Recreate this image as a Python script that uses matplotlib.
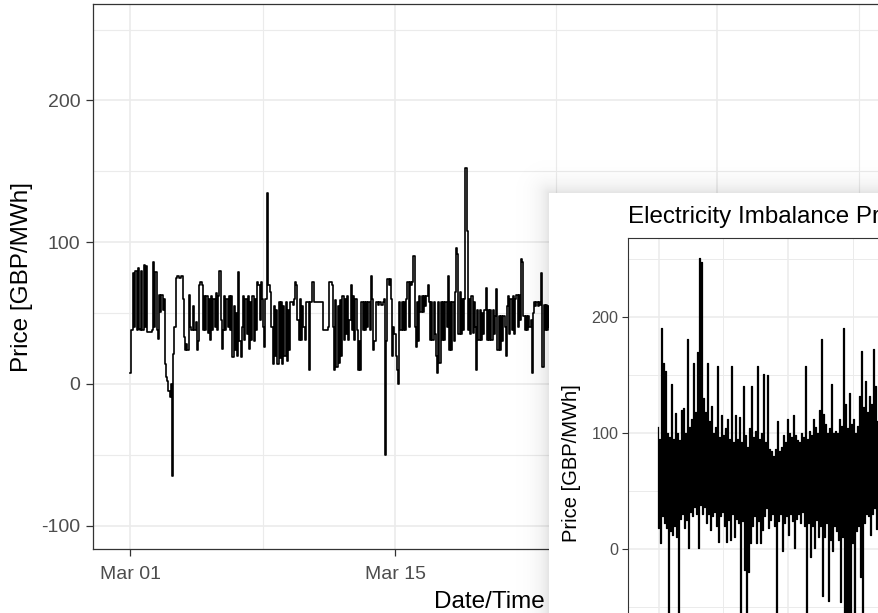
import numpy as np
import pandas as pd
import matplotlib
matplotlib.use('Agg')
import matplotlib.pyplot as plt
import matplotlib.dates as mdates
from matplotlib.patches import Rectangle

plt.rcParams['font.family'] = ['Liberation Sans', 'DejaVu Sans']
plt.rcParams['axes.unicode_minus'] = False

# March prices, 90-minute readings (GBP/MWh), one row per day
price_march = [
    8, 38, 38, 78, 40, 80, 38, 82, 39, 38, 80, 38, 84, 40, 83, 37,
    37, 37, 37, 38, 86, 40, 79, 38, 32, 63, 51, 63, 52, 60, 14, 5,
    2, -5, -9, 0, -65, 21, 40, 75, 76, 76, 75, 75, 76, 60, 33, 24,
    28, 24, 63, 40, 38, 38, 55, 38, 44, 24, 30, 70, 72, 70, 38, 62,
    38, 62, 36, 60, 31, 62, 38, 60, 40, 64, 38, 62, 80, 45, 25, 38,
    62, 38, 60, 40, 62, 38, 62, 19, 55, 24, 50, 20, 79, 30, 19, 40,
    62, 31, 60, 35, 62, 25, 58, 31, 62, 30, 60, 38, 72, 70, 45, 72,
    60, 40, 26, 60, 135, 70, 70, 65, 40, 14, 55, 20, 52, 14, 58, 18,
    58, 14, 55, 20, 58, 16, 52, 24, 58, 58, 56, 60, 72, 70, 45, 31,
    60, 31, 55, 40, 31, 58, 58, 58, 10, 58, 72, 72, 58, 58, 58, 58,
    58, 58, 58, 58, 38, 38, 38, 38, 40, 72, 72, 70, 40, 10, 59, 12,
    55, 15, 59, 20, 62, 31, 60, 35, 62, 31, 45, 70, 38, 62, 31, 60,
    38, 10, 30, 10, 58, 38, 58, 38, 58, 40, 58, 38, 76, 60, 24, 30,
    58, 58, 56, 58, 58, 56, 58, 60, -50, 30, 74, 70, 74, 60, 20, 40,
    35, 20, 10, 0, 58, 38, 58, 38, 58, 38, 60, 72, 40, 72, 70, 72,
    90, 40, 26, 58, 30, 62, 51, 62, 51, 62, 55, 62, 70, 58, 31, 58,
    31, 58, 35, 20, 8, 58, 15, 58, 31, 58, 31, 58, 40, 76, 24, 58,
    24, 58, 30, 65, 96, 92, 35, 65, 35, 60, 38, 60, 152, 108, 38, 60,
    35, 62, 36, 58, 40, 10, 52, 31, 52, 31, 50, 35, 52, 68, 31, 52,
    31, 52, 31, 52, 35, 48, 67, 24, 48, 24, 48, 30, 48, 40, 20, 55,
    62, 35, 60, 38, 62, 35, 60, 63, 40, 63, 45, 88, 86, 48, 38, 48,
    38, 48, 40, 45, 8, 50, 58, 55, 58, 55, 58, 56, 78, 12, 56, 38,
    56, 38, 55, 40, 58, 45, 60, 40, 58, 50, 56, 38, 55, 45, 60, 50,
]

# Inset series: alternating high / low readings of the dense imbalance price
imb_high = [
    105, 95, 190, 160, 153, 100, 96, 142, 95, 117,
    100, 94, 120, 121, 100, 181, 105, 112, 160, 118,
    170, 251, 247, 130, 118, 160, 110, 123, 100, 105,
    158, 96, 115, 98, 104, 112, 95, 158, 92, 115,
    95, 114, 92, 140, 98, 88, 104, 140, 96, 102,
    158, 95, 100, 151, 92, 150, 86, 84, 80, 86,
    110, 84, 88, 98, 92, 112, 100, 96, 115, 98,
    94, 92, 100, 96, 158, 95, 102, 98, 112, 105,
    100, 120, 181, 116, 108, 100, 104, 142, 100, 102,
    100, 112, 106, 190, 125, 104, 134, 108, 112, 100,
    106, 132, 171, 122, 145, 118, 132, 125, 172, 140,
    110,
]
imb_low = [
    18, 5, 28, 22, 18, -80, 15, 12, 20, 10,
    -80, 26, 30, 18, 25, 1, 32, 28, 36, 30,
    1, 38, 30, 36, 22, 30, 16, 28, 32, 20,
    6, 28, 32, 20, 6, 25, 8, 30, 10, 26,
    22, -80, 24, -18, -80, -20, 5, 20, 28, 5,
    24, 5, 16, 28, 35, 18, 25, 30, 20, -80,
    24, 30, -2, 22, 28, 12, 30, 24, 1, 26,
    30, 22, 32, 20, -80, 22, -7, 20, 1, 25,
    10, 20, -41, 10, 22, -45, 8, -2, 20, 15,
    8, -46, 10, -80, -70, -80, -75, 5, -80, 15,
    20, -24, -80, 22, 30, 28, 12, 30, 35, 17,
    30,
]

W, H = 879, 613
fig = plt.figure(figsize=(W / 100, H / 100), dpi=100)


def px_box(x0, y0, x1, y1):
    return [x0 / W, 1 - y1 / H, (x1 - x0) / W, (y1 - y0) / H]


grid_c = '#EBEBEB'
dark = '#333333'
tick_c = '#4D4D4D'

# main chart
ax = fig.add_axes(px_box(93, 4, 885, 549))
start = pd.Timestamp('2017-03-01')
times = pd.date_range(start, periods=len(price_march), freq='90min')
ax.plot(times, price_march, color='black', lw=1.2, drawstyle='steps-mid')
day = pd.Timedelta(days=1)
ax.set_xlim(start - 1.955 * day, start + 39.88 * day)
ax.set_ylim(-116.4, 268)
ax.set_xticks([start, start + 14 * day, start + 31 * day])
ax.set_xticks([start + 7 * day, start + 22.5 * day, start + 38.5 * day], minor=True)
ax.xaxis.set_major_formatter(mdates.DateFormatter('%b %d'))
ax.set_yticks([-100, 0, 100, 200])
ax.set_yticks([-50, 50, 150, 250], minor=True)
ax.grid(which='major', color=grid_c, lw=1.2)
ax.grid(which='minor', color=grid_c, lw=0.8)
ax.set_axisbelow(True)
ax.tick_params(which='major', length=5, width=0.9, color=dark, labelsize=14,
               labelcolor=tick_c, pad=4)
ax.tick_params(axis='x', which='major', pad=7.5)
ax.tick_params(which='minor', length=0)
for s in ax.spines.values():
    s.set_color(dark)
    s.set_linewidth(0.9)
ax.set_xlabel('Date/Time', fontsize=17.5, va='baseline')
ax.xaxis.set_label_coords(0.5, (549 - 608) / 545)
ax.set_ylabel('Price [GBP/MWh]', fontsize=17.5, va='center')
ax.yaxis.set_label_coords((22 - 93) / 792, 0.5)

# overlapping window with soft shadow
ov = fig.add_axes([0, 0, 1, 1])
ov.set_xlim(0, W)
ov.set_ylim(H, 0)
ov.axis('off')
yy, xx = np.mgrid[0:H, 0:W] + 0.5
d = np.hypot(np.clip(549 - xx, 0, None), np.clip(193 - yy, 0, None))
shade = np.zeros((H, W, 4))
shade[..., 3] = 0.11 * np.exp(-d / 10)
ov.imshow(shade, extent=(0, W, H, 0), aspect='auto', interpolation='bilinear')
ov.add_patch(Rectangle((549, 193), W, H, facecolor='white', edgecolor='none'))

# inset chart
ax_in = fig.add_axes(px_box(628, 238, 1230, 688))
vals = np.empty(2 * len(imb_high))
vals[0::2] = imb_high
vals[1::2] = imb_low
ax_in.plot(np.arange(len(vals)), vals, color='black', lw=0.9, drawstyle='steps-mid')
ax_in.set_xlim(-30, 572)
ax_in.set_ylim(-120, 268)
ax_in.set_xticks([1, 130, 259, 388])
ax_in.set_xticks([65, 195, 324], minor=True)
ax_in.set_xticklabels([])
ax_in.set_yticks([-100, 0, 100, 200])
ax_in.set_yticks([-50, 50, 150, 250], minor=True)
ax_in.grid(which='major', color=grid_c, lw=1.1)
ax_in.grid(which='minor', color=grid_c, lw=0.7)
ax_in.set_axisbelow(True)
ax_in.tick_params(which='major', length=4, width=0.8, color=dark, labelsize=11.6,
                  labelcolor=tick_c, pad=3)
ax_in.tick_params(which='minor', length=0)
for s in ax_in.spines.values():
    s.set_color(dark)
    s.set_linewidth(0.8)
ax_in.set_ylabel('Price [GBP/MWh]', fontsize=14.5, va='center')
ax_in.yaxis.set_label_coords((572 - 628) / 602, 0.5)
ax_in.set_title('Electricity Imbalance Prices', loc='left', fontsize=17.4, pad=10.8)

fig.savefig('out.png', dpi=100)
